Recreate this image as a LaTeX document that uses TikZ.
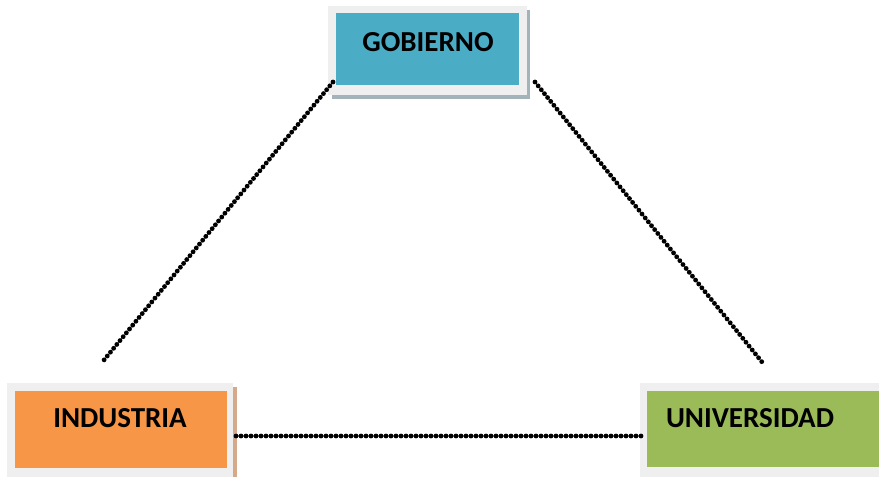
\documentclass[tikz,border=0pt]{standalone}
\usepackage{fontspec}
\setmainfont{Carlito}
\definecolor{frame}{HTML}{EFEFEF}
\definecolor{teal}{HTML}{4BACC6}
\definecolor{orng}{HTML}{F79646}
\definecolor{grn}{HTML}{9BBB59}
\definecolor{shT}{HTML}{A3B3BA}
\definecolor{shO}{HTML}{D4AA8A}
\definecolor{shG}{HTML}{B5C49A}
\tikzset{
  lbl/.style={font=\bfseries\fontsize{29}{34}\selectfont, text=black, inner sep=0pt},
  dots/.style={line width=4.8pt, line cap=round, dash pattern=on 0pt off 5pt, black},
}
\begin{document}
\begin{tikzpicture}[x=1pt,y=-1pt]
\useasboundingbox (0,0) rectangle (879,477);
% GOBIERNO
\fill[shT] (332,10) rectangle (530,99);
\fill[frame] (328,6) rectangle (527,95);
\node[fill=teal, minimum width=183pt, minimum height=72pt, inner sep=0pt, anchor=north west] (gob) at (336,13) {};
\node[lbl] (gobt) at (428,42) {GOBIERNO};
% INDUSTRIA
\fill[shO] (11,387) rectangle (237,481);
\fill[frame] (7,383) rectangle (233,477);
\node[fill=orng, minimum width=212pt, minimum height=77pt, inner sep=0pt, anchor=north west] (ind) at (15,391) {};
\node[lbl] (indt) at (120,418) {INDUSTRIA};
% UNIVERSIDAD
\fill[shG] (644,387) rectangle (885,481);
\fill[frame] (640,383) rectangle (885,477);
\node[fill=grn, minimum width=240pt, minimum height=76pt, inner sep=0pt, anchor=north west] (uni) at (647,391) {};
\node[lbl] (unit) at (750,418) {UNIVERSIDAD};
% connectors
\coordinate (gL) at (333,82);
\coordinate (gR) at (535,82);
\coordinate (iT) at (104,360);
\coordinate (uT) at (762,362);
\coordinate (iR) at (236,436);
\coordinate (uL) at (645,436);
\draw[dots] (gL) -- (iT);
\draw[dots] (gR) -- (uT);
\draw[dots] (iR) -- (uL);
\end{tikzpicture}
\end{document}
